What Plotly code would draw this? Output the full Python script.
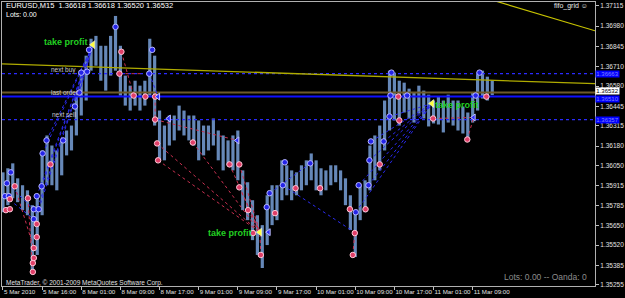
import plotly.graph_objects as go

# ---------------- data ----------------
hours = list(range(101))  # hourly index from 5 Mar 2010 08:00
price_high = [1.36005,1.36032,1.36065,1.35965,1.35919,1.35885,1.35786,1.35852,1.36151,1.36251,
              1.36184,1.36151,1.36218,1.36284,1.36317,1.36517,1.36683,1.36783,1.36896,1.36915,
              1.36849,1.36849,1.36915,1.37048,1.36849,1.36650,1.36583,1.36616,1.36583,1.36616,
              1.36896,1.36783,1.36417,1.36317,1.36384,1.36384,1.36450,1.36417,1.36384,1.36384,
              1.36351,1.36317,1.36317,1.36364,1.36284,1.36251,1.36218,1.36251,1.36284,1.36018,
              1.35939,1.35819,1.35719,1.35653,1.35852,1.35919,1.35919,1.36085,1.36052,1.36018,
              1.36005,1.36052,1.36085,1.36131,1.36085,1.36032,1.36018,1.36052,1.36052,1.36018,
              1.35965,1.35852,1.35739,1.35919,1.35952,1.36184,1.36251,1.36317,1.36484,1.36683,
              1.36670,1.36616,1.36603,1.36563,1.36537,1.36583,1.36550,1.36523,1.36484,1.36510,
              1.36484,1.36523,1.36484,1.36484,1.36444,1.36404,1.36537,1.36670,1.36683,1.36643,
              1.36618]
price_low = [1.35739,1.35786,1.35832,1.35806,1.35753,1.35719,1.35354,1.35454,1.35719,1.35919,
             1.35919,1.35885,1.35985,1.36118,1.36151,1.36251,1.36384,1.36484,1.36683,1.36716,
             1.36616,1.36550,1.36650,1.36683,1.36517,1.36450,1.36417,1.36450,1.36417,1.36450,
             1.36517,1.36317,1.36085,1.36085,1.36184,1.36218,1.36284,1.36251,1.36218,1.36184,
             1.36085,1.36118,1.36151,1.36184,1.36085,1.36018,1.36052,1.36018,1.35952,1.35753,
             1.35686,1.35553,1.35454,1.35367,1.35520,1.35653,1.35686,1.35819,1.35852,1.35819,
             1.35852,1.35885,1.35919,1.35952,1.35885,1.35852,1.35885,1.35919,1.35939,1.35885,
             1.35786,1.35620,1.35440,1.35686,1.35739,1.35885,1.35952,1.36018,1.36151,1.36284,
             1.36351,1.36317,1.36404,1.36364,1.36337,1.36397,1.36364,1.36311,1.36331,1.36324,
             1.36271,1.36337,1.36317,1.36284,1.36264,1.36218,1.36337,1.36417,1.36497,1.36484,
             1.36520]

x_tick_hours = [0, 8, 16, 24, 32, 40, 48, 56, 64, 72, 80, 88, 96]
x_tick_labels = ["5 Mar 2010", "5 Mar 16:00", "8 Mar 01:00", "8 Mar 09:00", "8 Mar 17:00",
                 "9 Mar 01:00", "9 Mar 09:00", "9 Mar 17:00", "10 Mar 01:00", "10 Mar 09:00",
                 "10 Mar 17:00", "11 Mar 01:00", "11 Mar 09:00"]
y_tick_labels = ["1.37115", "1.36980", "1.36845", "1.36710", "1.36580", "1.36445", "1.36315",
                 "1.36180", "1.36050", "1.35915", "1.35785", "1.35650", "1.35520", "1.35385", "1.35255"]

buy_t = [0.4, 1.2, 0.8, 1.6, 6.3, 7.3, 6.3, 6.9, 7.9, 8.1, 8.9, 12.3, 14.7, 15.6, 16.0, 17.2, 17.6,
         23.0, 30.5, 29.9, 54.5, 53.9, 57.6, 57.2, 62.8, 72.7, 74.7, 72.1, 74.9, 75.2, 77.8, 79.0,
         79.4, 79.2, 82.6, 97.4, 96.6]
buy_p = [1.35846, 1.35846, 1.35932, 1.36005, 1.35759, 1.35759, 1.35693, 1.35846, 1.35912, 1.36131,
         1.36218, 1.36218, 1.36444, 1.36537, 1.36670, 1.36676, 1.36822, 1.36975, 1.36822, 1.36663,
         1.35866, 1.35773, 1.36072, 1.35919, 1.36065, 1.35919, 1.35919, 1.35739, 1.36085, 1.36211,
         1.36211, 1.36377, 1.36670, 1.36517, 1.36517, 1.36670, 1.36517]
sell_t = [0.6, 1.4, 1.4, 2.4, 5.1, 6.1, 6.1, 6.3, 6.3, 6.9, 6.9, 9.7, 23.8, 24.2, 26.7, 29.1, 31.1,
          31.1, 31.5, 31.7, 38.8, 46.3, 48.3, 48.3, 50.1, 51.1, 52.7, 55.6, 59.8, 64.8, 70.9, 74.1,
          71.9, 71.5, 77.0, 81.0, 80.8, 87.9, 94.9, 98.8]
sell_p = [1.35753, 1.35759, 1.35826, 1.35912, 1.35832, 1.35400, 1.35341, 1.35434, 1.35500, 1.35573,
          1.35660, 1.36058, 1.36663, 1.36809, 1.36517, 1.36510, 1.36510, 1.36357, 1.36198, 1.36085,
          1.36204, 1.36058, 1.36058, 1.35905, 1.35753, 1.35600, 1.35454, 1.35733, 1.35899, 1.35899,
          1.35759, 1.35759, 1.35600, 1.35454, 1.36058, 1.36351, 1.36510, 1.36364, 1.36224, 1.36510]
close_t = [31.7, 33.9, 47.9, 54.3, 96.2]
close_p = [1.36510, 1.36364, 1.36218, 1.35606, 1.36371]
tp_t = [18.4, 52.5, 87.7]
tp_p = [1.36856, 1.35606, 1.36464]

buy_line_t0 = [6.3, 6.9, 7.9, 7.3, 8.1, 8.9, 14.7, 15.6, 16.0, 0.8, 0.4, 29.9, 57.2, 54.5,
               72.1, 72.7, 74.7, 74.9, 75.2, 77.8, 79.0]
buy_line_p0 = [1.35693, 1.35846, 1.35912, 1.35759, 1.36131, 1.36218, 1.36444, 1.36537, 1.36670,
               1.35932, 1.35846, 1.36663, 1.35919, 1.35866, 1.35739, 1.35919, 1.35919, 1.36085,
               1.36211, 1.36211, 1.36377]
buy_line_t1 = [18.4, 18.4, 18.4, 18.4, 18.4, 18.4, 18.4, 18.4, 18.4, 6.3, 6.3, 31.7, 72.1, 62.8,
               87.7, 87.7, 87.7, 87.7, 87.7, 87.7, 87.7]
buy_line_p1 = [1.36856, 1.36856, 1.36856, 1.36856, 1.36856, 1.36856, 1.36856, 1.36856, 1.36856,
               1.35759, 1.35693, 1.36510, 1.35600, 1.36065, 1.36464, 1.36464, 1.36464, 1.36464,
               1.36464, 1.36464, 1.36464]
sell_line_t0 = [31.5, 31.1, 31.7, 38.8, 46.3, 48.3, 48.3, 50.1, 51.1, 52.7, 23.8, 24.2, 31.1,
                5.1, 2.4, 87.9, 94.9, 71.5]
sell_line_p0 = [1.36198, 1.36357, 1.36085, 1.36204, 1.36058, 1.36058, 1.35905, 1.35753, 1.35600,
                1.35454, 1.36663, 1.36809, 1.36510, 1.35832, 1.35912, 1.36364, 1.36224, 1.35454]
sell_line_t1 = [52.5, 47.9, 52.5, 52.5, 52.5, 52.5, 52.5, 52.5, 52.5, 52.5, 28.5, 26.7, 31.1,
                6.1, 6.3, 96.2, 96.2, 71.9]
sell_line_p1 = [1.35606, 1.36218, 1.35606, 1.35606, 1.35606, 1.35606, 1.35606, 1.35606, 1.35606,
                1.35606, 1.36663, 1.36517, 1.36357, 1.35341, 1.35500, 1.36371, 1.36371, 1.35600]

next_buy = 1.36663
last_order = 1.36537
grid_line = 1.36510
next_sell = 1.36357
bid_price = 1.36532
trend1_t = [-0.2, 121.0]
trend1_p = [1.36729, 1.36596]
trend2_t = [100.6, 121.0]
trend2_p = [1.37148, 1.36949]

# ---------------- figure ----------------
X0, X1 = -0.2, 121.0
Y0, Y1 = 1.35247, 1.37141
FONT = "Liberation Sans"

fig = go.Figure()

bx, by = [], []
for t, h, l in zip(hours, price_high, price_low):
    bx += [t, t, None]
    by += [l, h, None]
fig.add_trace(go.Scatter(x=bx, y=by, mode="lines", line=dict(color="#6688b8", width=3.2),
                         hoverinfo="skip"))

def hline(p, color, width, dash="solid"):
    fig.add_trace(go.Scatter(x=[X0, X1], y=[p, p], mode="lines",
                             line=dict(color=color, width=width, dash=dash), hoverinfo="skip"))

hline(next_buy, "#2a2aff", 1.2, "dot")
hline(last_order, "#6e5a2a", 2)
hline(grid_line, "#1010ff", 2)
hline(next_sell, "#2a2aff", 1.2, "dot")
fig.add_trace(go.Scatter(x=trend1_t, y=trend1_p, mode="lines",
                         line=dict(color="#b0ac00", width=1.3), hoverinfo="skip"))
fig.add_trace(go.Scatter(x=trend2_t, y=trend2_p, mode="lines",
                         line=dict(color="#c8c400", width=1.2), hoverinfo="skip"))

def segs(t0, p0, t1, p1):
    xs, ys = [], []
    for a, b, c, d in zip(t0, p0, t1, p1):
        xs += [a, c, None]
        ys += [b, d, None]
    return xs, ys

sx, sy = segs(buy_line_t0, buy_line_p0, buy_line_t1, buy_line_p1)
fig.add_trace(go.Scatter(x=sx, y=sy, mode="lines", line=dict(color="#2a2aee", width=1, dash="dot"),
                         hoverinfo="skip"))
sx, sy = segs(sell_line_t0, sell_line_p0, sell_line_t1, sell_line_p1)
fig.add_trace(go.Scatter(x=sx, y=sy, mode="lines", line=dict(color="#c83050", width=1, dash="dot"),
                         hoverinfo="skip"))

fig.add_trace(go.Scatter(x=buy_t, y=buy_p, mode="markers",
                         marker=dict(symbol="circle", size=5.5, color="#2424e8",
                                     line=dict(color="#b8b8ff", width=1)), hoverinfo="skip"))
fig.add_trace(go.Scatter(x=sell_t, y=sell_p, mode="markers",
                         marker=dict(symbol="circle", size=5.5, color="#e03e68",
                                     line=dict(color="#ffc8d8", width=1)), hoverinfo="skip"))
fig.add_trace(go.Scatter(x=close_t, y=close_p, mode="markers",
                         marker=dict(symbol="triangle-left", size=6, color="#3030ff",
                                     line=dict(color="#c0c0ff", width=1)), hoverinfo="skip"))
fig.add_trace(go.Scatter(x=tp_t, y=tp_p, mode="markers",
                         marker=dict(symbol="triangle-left", size=7, color="#ffff40",
                                     line=dict(color="#ffffff", width=0.5)), hoverinfo="skip"))

ann = []
def txt(x, y, s, size, color, xanchor="left", xref="x", yref="y", bold=False, **kw):
    if bold:
        s = "<b>" + s + "</b>"
    ann.append(dict(x=x, y=y, xref=xref, yref=yref, text=s, showarrow=False, xanchor=xanchor,
                    yanchor="middle", font=dict(family=FONT, size=size, color=color), **kw))

# take profit labels
txt(12.9, 1.36876, "take profit", 9, "#22d022", "center", bold=True)
txt(46.5, 1.35600, "take profit", 9, "#22d022", "center", bold=True)
txt(92.7, 1.36457, "take profit", 9, "#22d022", "center", bold=True)
# grid labels
txt(9.5, 1.36690, "next buy", 6.5, "#c8c8c8")
txt(9.5, 1.36537, "last order", 6.5, "#c8c8c8")
txt(9.7, 1.36390, "next sell", 6.5, "#c8c8c8")

# header / footer texts (paper)
txt(0.003, 0.986, "EURUSD,M15  1.36618 1.36618 1.36520 1.36532", 7.5, "#ffffff", xref="paper", yref="paper")
txt(0.003, 0.956, "Lots: 0.00", 7, "#ffffff", xref="paper", yref="paper")
txt(0.992, 0.986, "fifo_grid ☺", 7, "#e8e8e8", "right", xref="paper", yref="paper")
txt(0.003, 0.011, "MetaTrader, © 2001-2009 MetaQuotes Software Corp.", 6.5, "#e0e0e0", xref="paper", yref="paper")
txt(0.99, 0.032, "Lots: 0.00 -- Oanda: 0", 8.5, "#8c8c8c", "right", xref="paper", yref="paper")

# right axis price tags
for p, bg, fc, ys in [(next_buy, "#0000ff", "#8080ff", 0), (grid_line, "#0000ff", "#8080ff", -2),
                      (next_sell, "#0000ff", "#8080ff", 0), (bid_price, "#ffffff", "#000000", 2)]:
    ann.append(dict(x=1.0, y=p, xref="paper", yref="y", text=f"{p:.5f}", showarrow=False,
                    xanchor="left", yanchor="middle", bgcolor=bg, borderpad=0, width=23, height=6,
                    yshift=ys, font=dict(family=FONT, size=6, color=fc)))

fig.update_layout(
    width=625, height=298,
    margin=dict(l=1, r=24, t=1, b=12, pad=0),
    paper_bgcolor="#000000", plot_bgcolor="#000000",
    showlegend=False, annotations=ann,
    xaxis=dict(range=[X0, X1], showgrid=False, zeroline=False, tickmode="array",
               tickvals=x_tick_hours, ticktext=x_tick_labels, ticks="outside", ticklen=3,
               tickcolor="#c0c0c0", ticklabelposition="outside right", tickangle=0,
               tickfont=dict(family=FONT, size=6.2, color="#e0e0e0"),
               showline=True, linecolor="#b0b0b0", linewidth=1, mirror=True),
    yaxis=dict(range=[Y0, Y1], side="right", showgrid=False, zeroline=False, tickmode="array",
               tickvals=[float(v) for v in y_tick_labels], ticktext=y_tick_labels,
               ticks="outside", ticklen=3, tickcolor="#c0c0c0",
               tickfont=dict(family=FONT, size=6.5, color="#e0e0e0"),
               showline=True, linecolor="#b0b0b0", linewidth=1, mirror=True),
)

fig.write_html("out.html", config={"displayModeBar": False})
